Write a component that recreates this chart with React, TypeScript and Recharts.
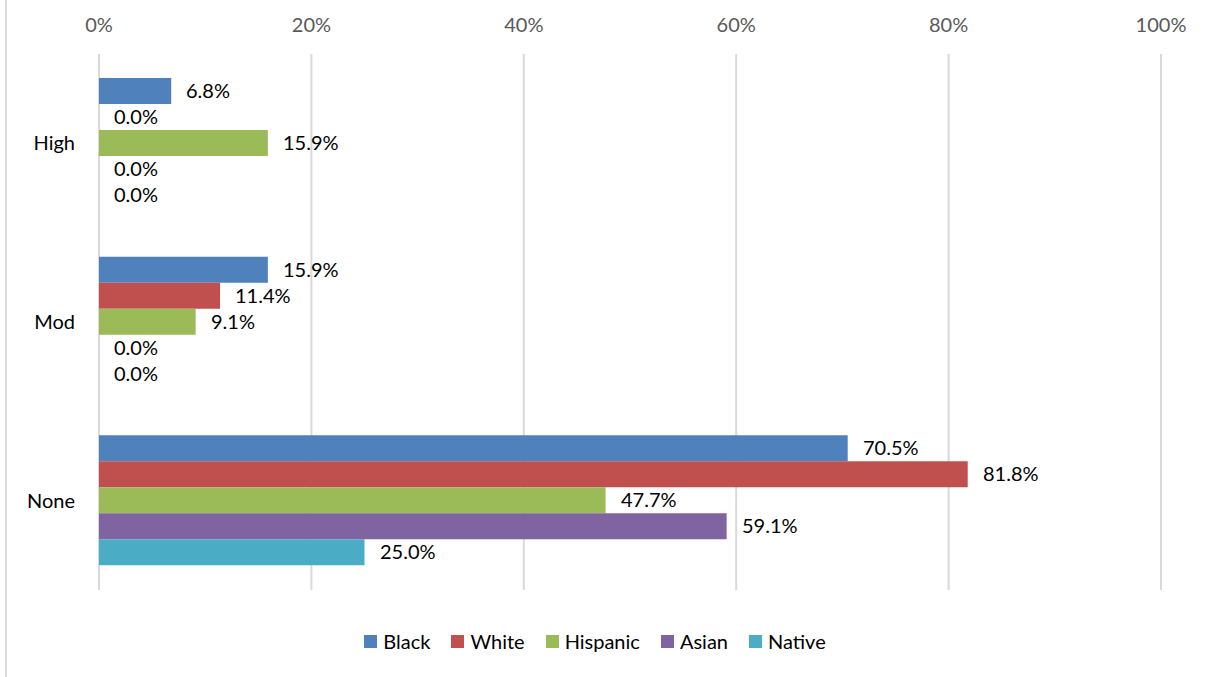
import { BarChart, Bar, XAxis, YAxis, CartesianGrid, Legend, LabelList } from "recharts";

const categories = ["High", "Mod", "None"];
const black = [6.8, 15.9, 70.5];
const white = [0.0, 11.4, 81.8];
const hispanic = [15.9, 9.1, 47.7];
const asian = [0.0, 0.0, 59.1];
const native = [0.0, 0.0, 25.0];
const xTicks = [0, 20, 40, 60, 80, 100];

const series = [
  { key: "Black", values: black, color: "#4F81BD" },
  { key: "White", values: white, color: "#C0504D" },
  { key: "Hispanic", values: hispanic, color: "#9BBB59" },
  { key: "Asian", values: asian, color: "#8064A2" },
  { key: "Native", values: native, color: "#4BACC6" },
];

const data = categories.map((c, i) => {
  const row: Record<string, string | number> = { name: c };
  series.forEach((s) => (row[s.key] = s.values[i]));
  return row;
});

const FONT = "Lato, 'Noto Sans', sans-serif";

const TopTick = ({ x, payload }: any) => (
  <text x={x} y={32} textAnchor="middle" fill="#595959" fontSize={20} fontFamily={FONT}>
    {payload.value}%
  </text>
);

const CatTick = ({ y, payload }: any) => (
  <text x={75} y={y + 7} textAnchor="end" fill="#000" fontSize={20} fontFamily={FONT}>
    {payload.value}
  </text>
);

// draws value labels even for zero-length bars
const ValueLabel = (props: any) => {
  const { x, y, width, height, value } = props;
  return (
    <text
      x={Number(x) + Math.round(Number(width || 0)) + 15}
      y={Number(y) + Number(height) / 2 + 7}
      fill="#000"
      fontSize={20}
      fontFamily={FONT}
    >
      {`${Number(value).toFixed(1)}%`}
    </text>
  );
};

const LegendContent = () => (
  <div style={{ display: "flex", justifyContent: "center", fontSize: 20, fontFamily: FONT, color: "#000" }}>
    {series.map((s) => (
      <div key={s.key} style={{ display: "flex", alignItems: "center", marginRight: 21 }}>
        <span style={{ width: 13, height: 13, background: s.color, marginRight: 6, display: "inline-block" }} />
        <span>{s.key}</span>
      </div>
    ))}
  </div>
);

// keep zero values in the rendered set so their labels still show
const tinyForZero = (v: any) => (Number(v) === 0 ? 0.01 : 0);

export default function App() {
  return (
    <div style={{ position: "absolute", left: 0, top: 0, width: 1207, height: 677, background: "#fff" }}>
      <div style={{ position: "absolute", left: 5, top: 0, width: 2, height: 677, background: "#D9D9D9" }} />
      <BarChart
        width={1207}
        height={677}
        data={data}
        layout="vertical"
        margin={{ top: 0, right: 46, bottom: 87, left: 0 }}
        barCategoryGap={24}
        barGap={0}
        style={{ fontFamily: FONT }}
      >
        <CartesianGrid horizontal={false} stroke="#D9D9D9" strokeWidth={2} />
        <XAxis
          type="number"
          orientation="top"
          domain={[0, 100]}
          ticks={xTicks}
          height={54}
          axisLine={false}
          tickLine={false}
          tick={<TopTick />}
        />
        <YAxis
          type="category"
          dataKey="name"
          width={99}
          axisLine={false}
          tickLine={false}
          tick={<CatTick />}
        />
        <Legend
          verticalAlign="middle"
          align="center"
          wrapperStyle={{ top: 629, left: 2, width: 1207 }}
          content={<LegendContent />}
        />
        {series.map((s) => (
          <Bar
            key={s.key}
            dataKey={s.key}
            fill={s.color}
            minPointSize={tinyForZero}
            isAnimationActive={false}
          >
            <LabelList dataKey={s.key} content={<ValueLabel />} />
          </Bar>
        ))}
      </BarChart>
    </div>
  );
}
